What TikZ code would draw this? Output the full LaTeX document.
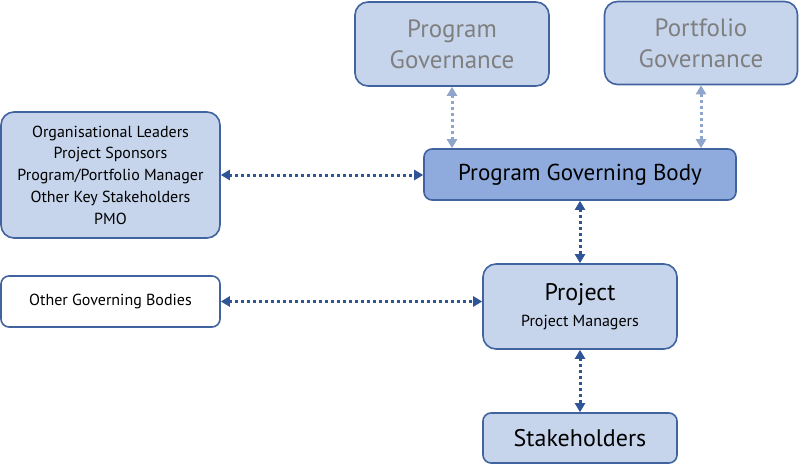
\documentclass[tikz,border=0pt]{standalone}
\usepackage{fontspec}
\setmainfont{PT Sans}
\usetikzlibrary{positioning, arrows.meta}
\definecolor{boxfill}{HTML}{C6D4EC}
\definecolor{bodyfill}{HTML}{8FAADC}
\definecolor{boxline}{HTML}{41639F}
\definecolor{linkblue}{HTML}{2F5597}
\definecolor{linklight}{HTML}{8FA5CC}
\definecolor{greytext}{HTML}{7F7F7F}
\tikzset{
x=1pt, y=-1pt, % one unit is one pixel of the layout, y runs downwards
box/.style={draw=boxline, line width=1.6pt, fill=boxfill, rounded corners=13pt, align=center, inner sep=0pt}, % sets the look of every box
govbox/.style={box, text=greytext, font=\fontsize{25}{31}\selectfont}, % the two boxes at the top
link/.style={draw=linkblue, line width=3pt, dash pattern=on 3pt off 3pt, {Triangle[length=9pt,width=10pt]}-{Triangle[length=9pt,width=10pt]}}, % dotted two-way link
lightlink/.style={link, draw=linklight}, % pale link to the top boxes
}

\begin{document}
\begin{tikzpicture}
    \useasboundingbox (0,0) rectangle (800,468);
    \node[govbox, minimum width=194pt, minimum height=84pt] (prog) at (452,44) {Program\\Governance};
    \node[govbox, minimum width=193pt, minimum height=83pt] (port) at (701,43) {Portfolio\\Governance};
    \node[box, fill=bodyfill, rounded corners=8pt, minimum width=312pt, minimum height=51pt, font=\fontsize{23}{27}\selectfont] (pgb) at (580,174.5) {Program Governing Body};
    \node[box, minimum width=219pt, minimum height=126pt, font=\fontsize{16}{21.7}\selectfont] (lead) at (110.5,175) {Organisational Leaders\\Project Sponsors\\Program/Portfolio Manager\\Other Key Stakeholders\\PMO};
    \node[box, minimum width=194pt, minimum height=85pt, font=\fontsize{24}{28}\selectfont] (proj) at (580,306.5) {Project\\[-2pt]{\fontsize{16}{20}\selectfont Project Managers}};
    \node[box, fill=white, rounded corners=8pt, minimum width=219pt, minimum height=51pt, font=\fontsize{16}{20}\selectfont] (other) at (110.5,301.5) {Other Governing Bodies};
    \node[box, rounded corners=8pt, minimum width=194pt, minimum height=50pt, font=\fontsize{24}{28}\selectfont] (stake) at (580,438) {Stakeholders};
    \draw[lightlink] (prog.south) -- (prog.south |- pgb.north);
    \draw[lightlink] (port.south) -- (port.south |- pgb.north);
    \draw[link] (lead.east) -- (lead.east -| pgb.west);
    \draw[link] (pgb.south) -- (proj.north);
    \draw[link] (other.east) -- (other.east -| proj.west);
    \draw[link] (proj.south) -- (stake.north);
\end{tikzpicture}
\end{document}
